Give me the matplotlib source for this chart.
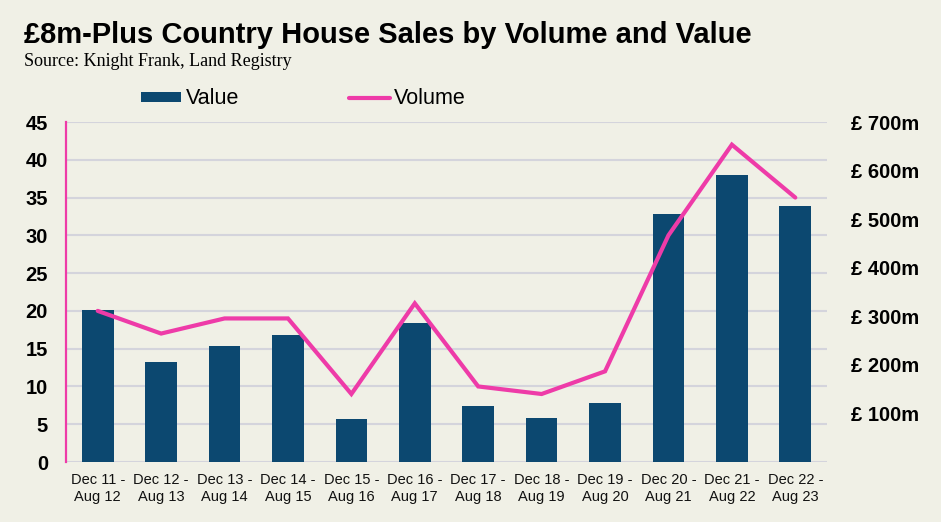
import numpy as np
import matplotlib.pyplot as plt
from matplotlib.lines import Line2D
from matplotlib.patches import Patch

# data
periods = ['Dec 11 -\nAug 12', 'Dec 12 -\nAug 13', 'Dec 13 -\nAug 14', 'Dec 14 -\nAug 15',
           'Dec 15 -\nAug 16', 'Dec 16 -\nAug 17', 'Dec 17 -\nAug 18', 'Dec 18 -\nAug 19',
           'Dec 19 -\nAug 20', 'Dec 20 -\nAug 21', 'Dec 21 -\nAug 22', 'Dec 22 -\nAug 23']
volume = [20, 17, 19, 19, 9, 21, 10, 9, 12, 30, 42, 35]
value_m = [313, 206, 239, 262, 89, 287, 116, 91, 122, 511, 591, 527]
value_ticks = [100, 200, 300, 400, 500, 600, 700]

bg = '#F0F0E6'
navy = '#0C4870'
pink = '#EE3BA8'
grid = '#D4D4DC'

plt.rcParams['font.family'] = ['Liberation Sans', 'DejaVu Sans']

fig = plt.figure(figsize=(9.41, 5.22), dpi=100, facecolor=bg)
ax = fig.add_axes([66/941, 1-462/522, 761/941, 340/522])
ax.set_facecolor(bg)
ax2 = ax.twinx()

x = np.arange(len(periods))

# bars on the value axis (right)
ax2.bar(x, value_m, width=0.5, color=navy, zorder=2)
ax2.set_ylim(0, 700)
ax2.set_yticks(value_ticks)
ax2.set_yticklabels([f'£ {v}m' for v in value_ticks], fontsize=14.5, fontweight='bold')
ax2.tick_params(axis='y', length=0, pad=17)

# volume line on the left axis, drawn above the bars
ax.set_zorder(ax2.get_zorder() + 1)
ax.patch.set_visible(False)
ax.plot(x, volume, color=pink, lw=3, solid_capstyle='round', solid_joinstyle='miter', zorder=3)
ax.set_ylim(0, 45)
ax.set_yticks(range(0, 46, 5))
ax.set_yticklabels([str(t) for t in range(0, 46, 5)], fontsize=14.5, fontweight='bold')
ax.tick_params(axis='y', length=0, pad=13)
ax.set_xlim(-0.5, len(periods) - 0.5)
ax.set_xticks(x)
ax.set_xticklabels(periods, fontsize=10.5, color='#111111', linespacing=1.3)
ax.tick_params(axis='x', length=0, pad=8)

# gridlines sit behind everything on the twin axes
for v in range(5, 46, 5):
    ax2.axhline(v * 700 / 45, color=grid, lw=1.5, zorder=0)
ax2.axhline(0, color=grid, lw=1.5, zorder=0)

for a in (ax, ax2):
    for s in a.spines.values():
        s.set_visible(False)
ax.spines['left'].set_visible(True)
ax.spines['left'].set_color(pink)
ax.spines['left'].set_linewidth(1.6)

ax2.patch.set_facecolor(bg)

# titles
fig.text(24/941, 1-35/522, '£8m-Plus Country House Sales by Volume and Value',
         fontsize=21, fontweight='bold', va='center', ha='left')
fig.text(24/941, 1-61/522, 'Source: Knight Frank, Land Registry',
         fontsize=13, va='center', ha='left', family=['Liberation Serif', 'DejaVu Serif'])

# legend
handles = [Patch(facecolor=navy, edgecolor='none'),
           Line2D([0], [0], color=pink, lw=3, solid_capstyle='round')]
fig.legend(handles, ['Value', 'Volume'], loc='center left',
           bbox_to_anchor=(140.5/941, 1-99/522), ncol=2, frameon=False,
           fontsize=15.5, handlelength=1.9, handleheight=0.35, handletextpad=0.2,
           columnspacing=5.1, borderaxespad=0, borderpad=0)

fig.savefig('out.png', dpi=100, facecolor=bg)
